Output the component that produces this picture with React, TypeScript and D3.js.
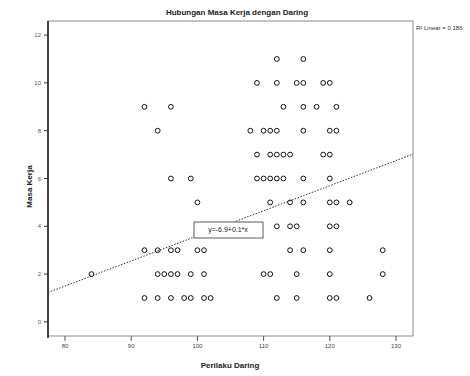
import React from 'react';
import * as d3 from 'd3';

const width = 470;
const height = 376;
const plotLeft = 48;
const plotRight = 413;
const plotTop = 21;
const plotBottom = 336;

// Masa Kerja (y) per row, Perilaku Daring (x) values
const ROW_Y = [11, 10, 9, 8, 7, 6, 5, 4, 3, 2, 1];
const ROW_X = [
  [112, 116],
  [109, 112, 115, 116, 119, 120],
  [92, 96, 113, 116, 118, 121],
  [94, 108, 110, 111, 112, 116, 120, 121],
  [109, 111, 112, 113, 114, 119, 120],
  [96, 99, 109, 110, 111, 112, 113, 116, 120],
  [100, 111, 114, 116, 120, 121, 123],
  [112, 114, 115, 120, 121],
  [92, 94, 96, 97, 100, 101, 114, 116, 120, 128],
  [84, 94, 95, 96, 97, 99, 101, 110, 111, 115, 120, 128],
  [92, 94, 96, 98, 99, 101, 102, 112, 115, 120, 121, 126],
];
const X_TICKS = [80, 90, 100, 110, 120, 130];
const Y_TICKS = [0, 2, 4, 6, 8, 10, 12];
const FIT = [-6.9, 0.105]; // intercept, slope
const FIT_LABEL = 'y=-6.9+0.1*x';
const R2_LABEL = 'R\u00b2 Linear = 0.186';

const x = d3.scaleLinear().domain([77.43, 132.57]).range([plotLeft, plotRight]);
const y = d3.scaleLinear().domain([-0.59, 12.59]).range([plotBottom, plotTop]);

const points = ROW_Y.flatMap((yv, i) => ROW_X[i].map(xv => ({ xv, yv })));

export default function App() {
  const [x0, x1] = x.domain();
  const line = d3.line<number>()
    .x(d => x(d))
    .y(d => y(FIT[0] + FIT[1] * d));
  return (
    <svg width={width} height={height} style={{ position: 'absolute', left: 0, top: 0 }}
      fontFamily="Liberation Sans, Arial, sans-serif">
      <rect x={0} y={0} width={width} height={height} fill="#fff" />
      <text x={237} y={15} textAnchor="middle" fontSize={8} fontWeight="bold" fill="#222">
        Hubungan Masa Kerja dengan  Daring
      </text>
      {/* frame */}
      <rect x={plotLeft} y={plotTop} width={plotRight - plotLeft} height={plotBottom - plotTop}
        fill="none" stroke="#8a8a8a" strokeWidth={1} />
      <line x1={plotLeft} x2={plotLeft} y1={plotTop} y2={plotBottom + 2} stroke="#222" strokeWidth={1.6} />
      {Y_TICKS.map(t => (
        <g key={'y' + t}>
          <line x1={plotLeft - 4} x2={plotLeft} y1={y(t)} y2={y(t)} stroke="#333" />
          <text x={plotLeft - 7} y={y(t)} dy="0.35em" textAnchor="end" fontSize={6} fill="#555">{t}</text>
        </g>
      ))}
      {X_TICKS.map(t => (
        <g key={'x' + t}>
          <line x1={x(t)} x2={x(t)} y1={plotBottom} y2={plotBottom + 5} stroke="#555" />
          <text x={x(t)} y={plotBottom + 12} textAnchor="middle" fontSize={6} fill="#444">{t}</text>
        </g>
      ))}
      <text x={230} y={368} textAnchor="middle" fontSize={8} fontWeight="bold" fill="#222">
        Perilaku Daring
      </text>
      <text transform={`translate(32,${(plotTop + plotBottom) / 2 + 8}) rotate(-90)`} textAnchor="middle"
        fontSize={8} fontWeight="bold" fill="#222">
        Masa Kerja
      </text>
      {/* fit line */}
      <path d={line([x0, x1]) ?? ''} fill="none" stroke="#333" strokeWidth={1} strokeDasharray="1.5,1.5" />
      {points.map((p, i) => (
        <circle key={i} cx={x(p.xv)} cy={y(p.yv)} r={2.4} fill="none" stroke="#111" strokeWidth={1} />
      ))}
      {/* equation label */}
      <g>
        <rect x={194} y={222} width={69} height={16} fill="#fff" stroke="#333" strokeWidth={0.8} />
        <text x={228} y={230} dy="0.35em" textAnchor="middle" fontSize={7} fill="#222">{FIT_LABEL}</text>
      </g>
      <text x={416} y={30} fontSize={6} fill="#333">{R2_LABEL}</text>
    </svg>
  );
}
